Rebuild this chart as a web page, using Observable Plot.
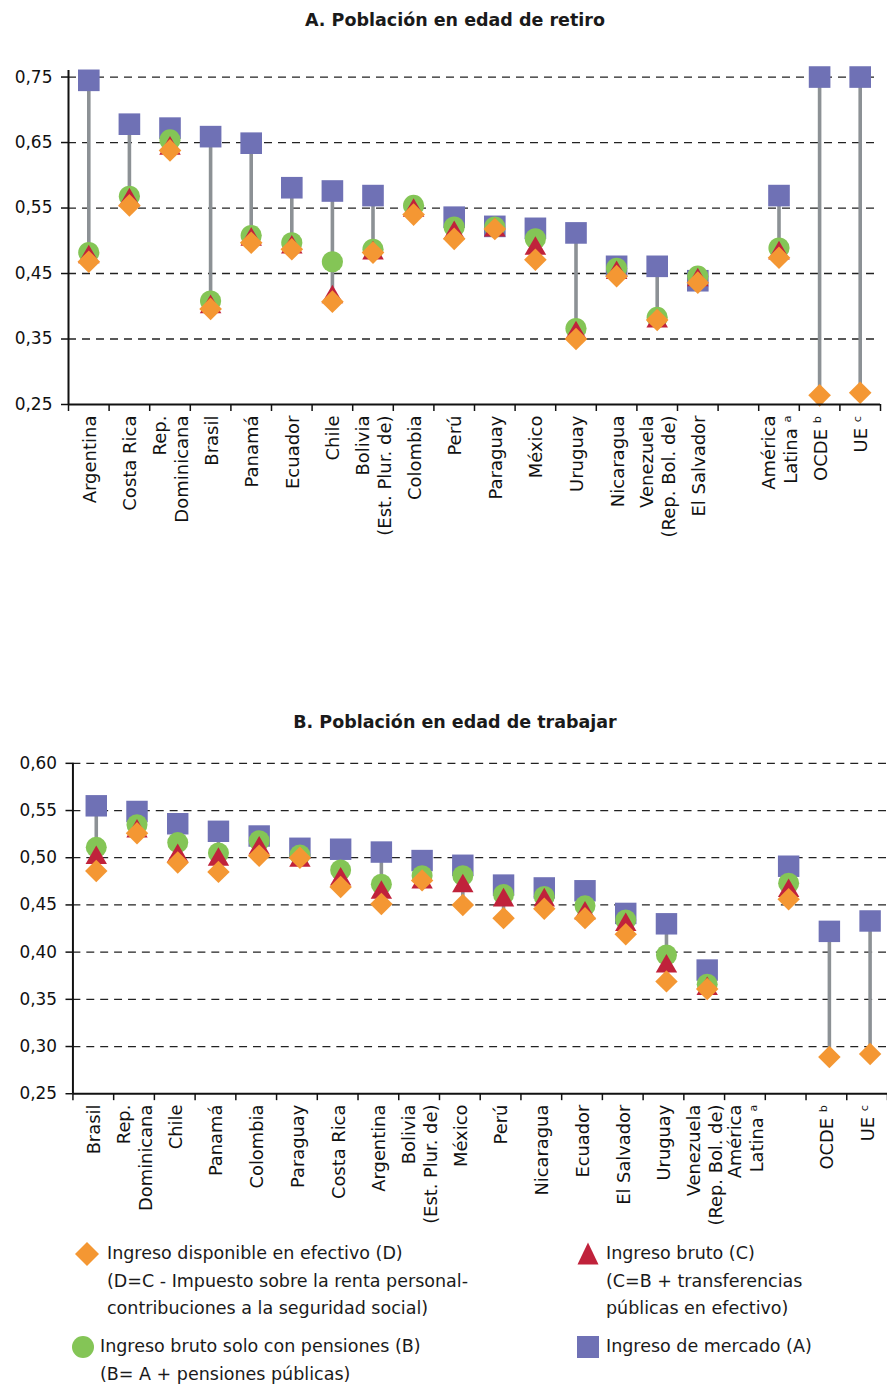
<!DOCTYPE html>
<html>
<head>
<meta charset="utf-8">
<script src="https://cdn.jsdelivr.net/npm/d3@7"></script>
<script src="https://cdn.jsdelivr.net/npm/@observablehq/plot@0.6"></script>
<style>
  html, body { margin: 0; padding: 0; background: #fff; }
  body { width: 887px; height: 1385px; position: relative; overflow: hidden; font-family: "DejaVu Sans", sans-serif; color: #1a1a1a; }
  .title { position: absolute; left: 0; width: 910px; text-align: center; font-weight: bold; font-size: 17.5px; }
  .panel { position: absolute; left: 0; overflow: hidden; width: 887px; }
  .leg { position: absolute; font-size: 17.5px; line-height: 27.5px; color: #1a1a1a; white-space: nowrap; }
  .legsym { position: absolute; }
</style>
</head>
<body>
<div class="title" style="top:10px;">A. Población en edad de retiro</div>
<div class="panel" id="panelA" style="top:40px;"></div>
<div class="title" style="top:712px;">B. Población en edad de trabajar</div>
<div class="panel" id="panelB" style="top:742px;"></div>
<div id="legend"></div>
<script>
// ---------- Data ----------
// Panel A: Población en edad de retiro ("" = empty slot)
const catsA = ["Argentina","Costa Rica","Rep. Dominicana","Brasil","Panamá","Ecuador","Chile","Bolivia (Est. Plur. de)","Colombia","Perú","Paraguay","México","Uruguay","Nicaragua","Venezuela (Rep. Bol. de)","El Salvador","","América Latina","OCDE","UE"];
const labelsA = ["Argentina","Costa Rica","Rep.\nDominicana","Brasil","Panamá","Ecuador","Chile","Bolivia\n(Est. Plur. de)","Colombia","Perú","Paraguay","México","Uruguay","Nicaragua","Venezuela\n(Rep. Bol. de)","El Salvador","","América\nLatina ᵃ","OCDE ᵇ","UE ᶜ"];
const mercadoA   = [0.745,0.678,0.672,0.659,0.649,0.581,0.576,0.569,null,0.536,0.522,0.519,0.512,0.461,0.461,0.439,null,0.569,0.750,0.750];
const pensionesA = [0.482,0.568,0.654,0.408,0.508,0.497,0.468,0.487,0.554,0.521,0.521,0.503,0.366,0.458,0.383,0.446,null,0.489,null,null];
const brutoA     = [0.475,0.562,0.641,0.399,0.502,0.490,0.414,0.481,0.546,0.512,0.516,0.488,0.359,0.451,0.377,0.440,null,0.481,null,null];
const dispA      = [0.468,0.554,0.638,0.396,0.497,0.487,0.407,0.482,0.540,0.503,0.518,0.471,0.350,0.446,0.379,0.436,null,0.474,0.264,0.268];
const ticksA = [0.25,0.35,0.45,0.55,0.65,0.75];

// Panel B: Población en edad de trabajar
const catsB = ["Brasil","Rep. Dominicana","Chile","Panamá","Colombia","Paraguay","Costa Rica","Argentina","Bolivia (Est. Plur. de)","México","Perú","Nicaragua","Ecuador","El Salvador","Uruguay","Venezuela (Rep. Bol. de)","","América Latina","OCDE","UE"];
const labelsB = ["Brasil","Rep.\nDominicana","Chile","Panamá","Colombia","Paraguay","Costa Rica","Argentina","Bolivia\n(Est. Plur. de)","México","Perú","Nicaragua","Ecuador","El Salvador","Uruguay","Venezuela\n(Rep. Bol. de)","América\nLatina ᵃ","","OCDE ᵇ","UE ᶜ"];
const mercadoB   = [0.555,0.549,0.536,0.528,0.523,0.510,0.509,0.506,0.497,0.492,0.471,0.468,0.465,0.441,0.430,0.381,null,0.491,0.422,0.433];
const pensionesB = [0.511,0.535,0.516,0.505,0.518,0.503,0.487,0.472,0.481,0.481,0.461,0.459,0.449,0.434,0.397,0.366,null,0.473,null,null];
const brutoB     = [0.500,0.528,0.502,0.498,0.510,0.497,0.477,0.463,0.474,0.470,0.455,0.455,0.441,0.429,0.385,0.361,null,0.465,null,null];
const dispB      = [0.486,0.526,0.495,0.485,0.502,0.500,0.469,0.451,0.476,0.450,0.436,0.446,0.436,0.419,0.369,0.361,null,0.456,0.289,0.292];
const ticksB = [0.25,0.30,0.35,0.40,0.45,0.50,0.55,0.60];

// ---------- Styles ----------
const COL = {A: "#6f71b5", B: "#84c556", C: "#c0223b", D: "#f49733", rule: "#8c9195"};
const fmt = d => d.toFixed(2).replace(".", ",");

function panel({cats, labels, A, B, C, D, ticks, yDomain, width, marginLeft, marginRight, marginTop, frameH, marginBottom, dx}) {
  const rows = cats.map((c, i) => ({cat: c, slot: i, A: A[i], B: B[i], C: C[i], D: D[i]})).filter(d => d.cat !== "");
  const vals = d => [d.A, d.B, d.C, d.D].filter(v => v != null);
  const lab = labels.map((t, i) => ({t, slot: i})).filter(d => d.t !== "");
  const X = d => d.slot + 0.5;
  return Plot.plot({
    width, height: marginTop + frameH + marginBottom,
    marginLeft, marginRight, marginTop, marginBottom,
    style: {fontFamily: "DejaVu Sans", fontSize: "17px", color: "#111", background: "white", overflow: "visible"},
    x: {domain: [0, 20]},
    y: {domain: yDomain},
    marks: [
      Plot.gridY(ticks.filter(t => t > yDomain[0] + 1e-9), {stroke: "#222", strokeOpacity: 1, strokeWidth: 1.3, strokeDasharray: "8,6"}),
      Plot.ruleX(rows.filter(d => vals(d).length > 1), {x: X, y1: d => d3.max(vals(d)), y2: d => d3.min(vals(d)), stroke: COL.rule, strokeWidth: 3.6, dx}),
      Plot.dot(rows.filter(d => d.A != null), {x: X, y: "A", symbol: "square", r: 12.2, fill: COL.A, dx}),
      Plot.dot(rows.filter(d => d.B != null), {x: X, y: "B", symbol: "circle", r: 10.6, fill: COL.B, dx}),
      Plot.dot(rows.filter(d => d.C != null), {x: X, y: "C", symbol: "triangle", r: 8, fill: COL.C, dx}),
      Plot.dot(rows.filter(d => d.D != null), {x: X, y: "D", symbol: "diamond2", r: 10.2, fill: COL.D, dx}),
      Plot.ruleX([0], {stroke: "#111", strokeWidth: 2}),
      Plot.ruleY([yDomain[0]], {stroke: "#111", strokeWidth: 2}),
      Plot.axisY({ticks, tickSize: 7, tickPadding: 9, tickFormat: fmt, fontSize: 17, stroke: "#111", strokeWidth: 1.5}),
      Plot.axisX({ticks: d3.range(0, 21), tickSize: 7, tickFormat: () => "", stroke: "#111", strokeWidth: 1.5}),
      Plot.text(lab, {x: X, text: "t", frameAnchor: "bottom", rotate: -90, textAnchor: "end", lineAnchor: "middle", dy: 11, fontSize: 18, lineHeight: 1.2, fill: "#111"})
    ]
  });
}

document.getElementById("panelA").append(panel({
  cats: catsA, labels: labelsA, A: mercadoA, B: pensionesA, C: brutoA, D: dispA,
  ticks: ticksA, yDomain: [0.25, 0.76],
  width: 887, marginLeft: 68, marginRight: 7, marginTop: 30, frameH: 334, marginBottom: 150, dx: 0
}));

document.getElementById("panelB").style.height = "500px";
document.getElementById("panelB").append(panel({
  cats: catsB, labels: labelsB, A: mercadoB, B: pensionesB, C: brutoB, D: dispB,
  ticks: ticksB, yDomain: [0.25, 0.60],
  width: 894, marginLeft: 73, marginRight: 0, marginTop: 21, frameH: 333, marginBottom: 140, dx: 3
}));

// ---------- Legend ----------
const legendItems = [
  {sym: "diamond", color: COL.D, sx: 87, sy: 1254, tx: 107, ty: 1240, lines: ["Ingreso disponible en efectivo (D)", "(D=C - Impuesto sobre la renta personal-", "contribuciones a la seguridad social)"]},
  {sym: "triangle", color: COL.C, sx: 588, sy: 1254, tx: 606, ty: 1240, lines: ["Ingreso bruto (C)", "(C=B + transferencias", "públicas en efectivo)"]},
  {sym: "circle", color: COL.B, sx: 83, sy: 1347, tx: 100, ty: 1333, lines: ["Ingreso bruto solo con pensiones (B)", "(B= A + pensiones públicas)"]},
  {sym: "square", color: COL.A, sx: 588, sy: 1347, tx: 606, ty: 1333, lines: ["Ingreso de mercado (A)"]}
];
const symPath = {
  diamond: "M0,-12L12,0L0,12L-12,0Z",
  triangle: "M0,-11.5L10.5,10.5L-10.5,10.5Z",
  circle: null,
  square: "M-11,-11H11V11H-11Z"
};
const leg = d3.select("#legend");
for (const it of legendItems) {
  const svg = leg.append("svg").attr("class", "legsym")
    .attr("width", 26).attr("height", 26)
    .style("left", (it.sx - 13) + "px").style("top", (it.sy - 13) + "px");
  const g = svg.append("g").attr("transform", "translate(13,13)");
  if (it.sym === "circle") g.append("circle").attr("r", 11).attr("fill", it.color);
  else g.append("path").attr("d", symPath[it.sym]).attr("fill", it.color);
  const div = leg.append("div").attr("class", "leg").style("left", it.tx + "px").style("top", it.ty + "px");
  div.html(it.lines.join("<br>"));
}
</script>
</body>
</html>
